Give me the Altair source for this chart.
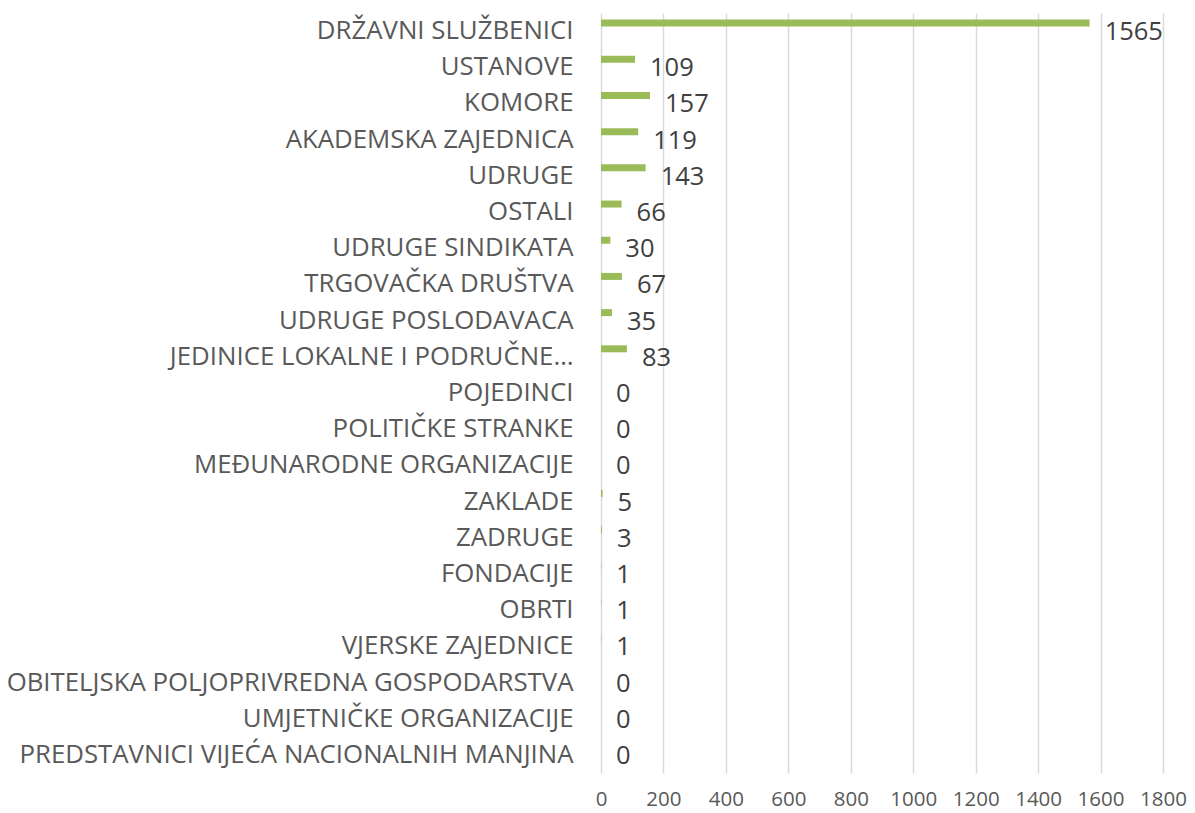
import altair as alt
import pandas as pd

categories = [
    "DRŽAVNI SLUŽBENICI", "USTANOVE", "KOMORE", "AKADEMSKA ZAJEDNICA", "UDRUGE",
    "OSTALI", "UDRUGE SINDIKATA", "TRGOVAČKA DRUŠTVA", "UDRUGE POSLODAVACA",
    "JEDINICE LOKALNE I PODRUČNE…", "POJEDINCI", "POLITIČKE STRANKE",
    "MEĐUNARODNE ORGANIZACIJE", "ZAKLADE", "ZADRUGE", "FONDACIJE", "OBRTI",
    "VJERSKE ZAJEDNICE", "OBITELJSKA POLJOPRIVREDNA GOSPODARSTVA",
    "UMJETNIČKE ORGANIZACIJE", "PREDSTAVNICI VIJEĆA NACIONALNIH MANJINA",
]
values = [1565, 109, 157, 119, 143, 66, 30, 67, 35, 83, 0, 0, 0, 5, 3, 1, 1, 1, 0, 0, 0]
x_ticks = [0, 200, 400, 600, 800, 1000, 1200, 1400, 1600, 1800]

df = pd.DataFrame({"cat": categories, "val": values})

FONT = "Open Sans"
y = alt.Y("cat:N", sort=categories, title=None,
          axis=alt.Axis(domain=False, ticks=False, labelPadding=28, labelFontSize=25.8,
                        labelColor="#595959", labelFont=FONT, labelLimit=700, grid=False))
x = alt.X("val:Q", title=None, scale=alt.Scale(domain=[0, 1800], nice=False),
          axis=alt.Axis(values=x_ticks, format="d", labelOverlap=False, labelFlush=False,
                        domain=False, ticks=False, labelPadding=16, labelFontSize=20.5,
                        labelColor="#595959", labelFont=FONT, grid=True,
                        gridColor="#d9d9d9", gridWidth=1.5))

bars = alt.Chart(df).mark_bar(height=7, yOffset=-8, color="#9BBB59").encode(x=x, y=y)
labels = alt.Chart(df).mark_text(align="left", baseline="middle", dx=15, dy=1,
                                 fontSize=25.5, font=FONT, color="#404040").encode(
    x="val:Q", y=alt.Y("cat:N", sort=categories), text="val:Q")

chart = (bars + labels).properties(
    width=562, height=760,
    autosize=alt.AutoSizeParams(type="none"),
    padding={"left": 593, "top": 5, "right": 24, "bottom": 40},
).configure_view(stroke=None)

chart.save("out.html", embed_options={"renderer": "svg", "actions": False})
